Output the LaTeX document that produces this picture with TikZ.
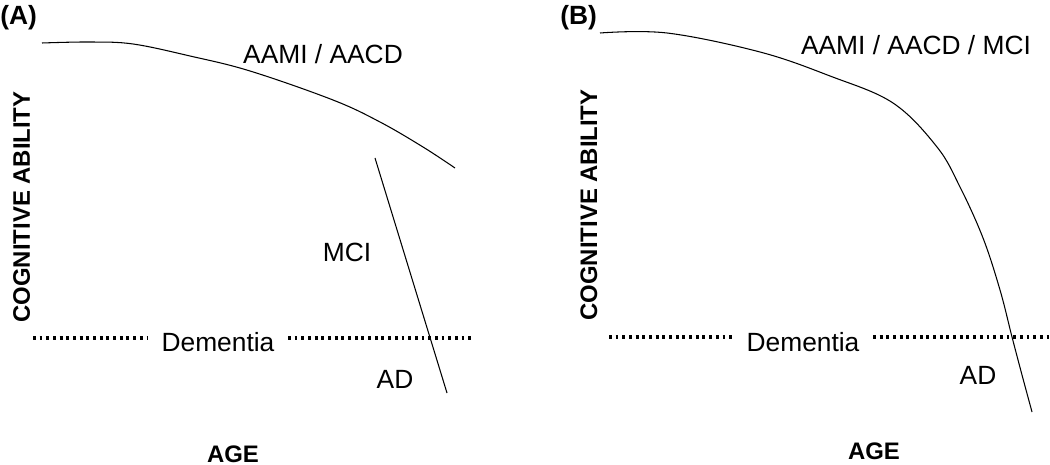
\documentclass[tikz,border=0pt]{standalone}
\usepackage{fontspec}
\setmainfont{Liberation Sans}

\tikzset{
  lbl/.style={inner sep=0pt,anchor=base},
  axlbl/.style={lbl,font=\fontsize{13.6}{16}\selectfont\bfseries},
  tag/.style={lbl,anchor=base west,font=\fontsize{15}{18}\selectfont\bfseries},
  dots/.style={line width=1.8pt,dash pattern=on 1.6pt off 2.2pt},
  curve/.style={line width=0.6pt}
}

\begin{document}
\begin{tikzpicture}[x=0.02cm,y=-0.02cm,font=\fontsize{15}{18}\selectfont]

\useasboundingbox (0,0) rectangle (1050,465);

\def\curveA{plot[smooth,tension=0.6] coordinates {(42,43) (90,42) (133,44) (190,56) (250,71) (333,100) (380,122) (423,147) (455,168)}}
\def\curveB{plot[smooth,tension=0.6] coordinates {(600,33) (667,33) (760,52) (830,76) (893,103) (937,147) (960,187) (983,238) (1000,290) (1012,337) (1022,375) (1032,412)}}

% panel A
\node[tag] (tagA) at (0,25) {(A)};
\node[axlbl,rotate=90] (yA) at (30,207) {COGNITIVE ABILITY};
\node[axlbl] (xA) at (233,462) {AGE};
\node[lbl] (normA) at (323,64) {AAMI / AACD};
\node[lbl] (mciA) at (347,262) {MCI};
\node[lbl] (demA) at (218,352) {Dementia};
\node[lbl] (adA) at (395,388) {AD};

\draw[curve] \curveA;
\draw[curve] (375,158) -- (447,393);
\draw[dots] (33,338) -- (147,338);
\draw[dots] (288,338) -- (473,338);

% panel B
\node[tag] (tagB) at (560,25) {(B)};
\node[axlbl,rotate=90] (yB) at (597,205) {COGNITIVE ABILITY};
\node[axlbl] (xB) at (874,459) {AGE};
\node[lbl] (normB) at (916,55) {AAMI / AACD / MCI};
\node[lbl] (demB) at (803,352) {Dementia};
\node[lbl] (adB) at (978,384) {AD};

\draw[curve] \curveB;
\draw[dots] (609,337) -- (733,337);
\draw[dots] (873,337) -- (1050,337);

\end{tikzpicture}
\end{document}
